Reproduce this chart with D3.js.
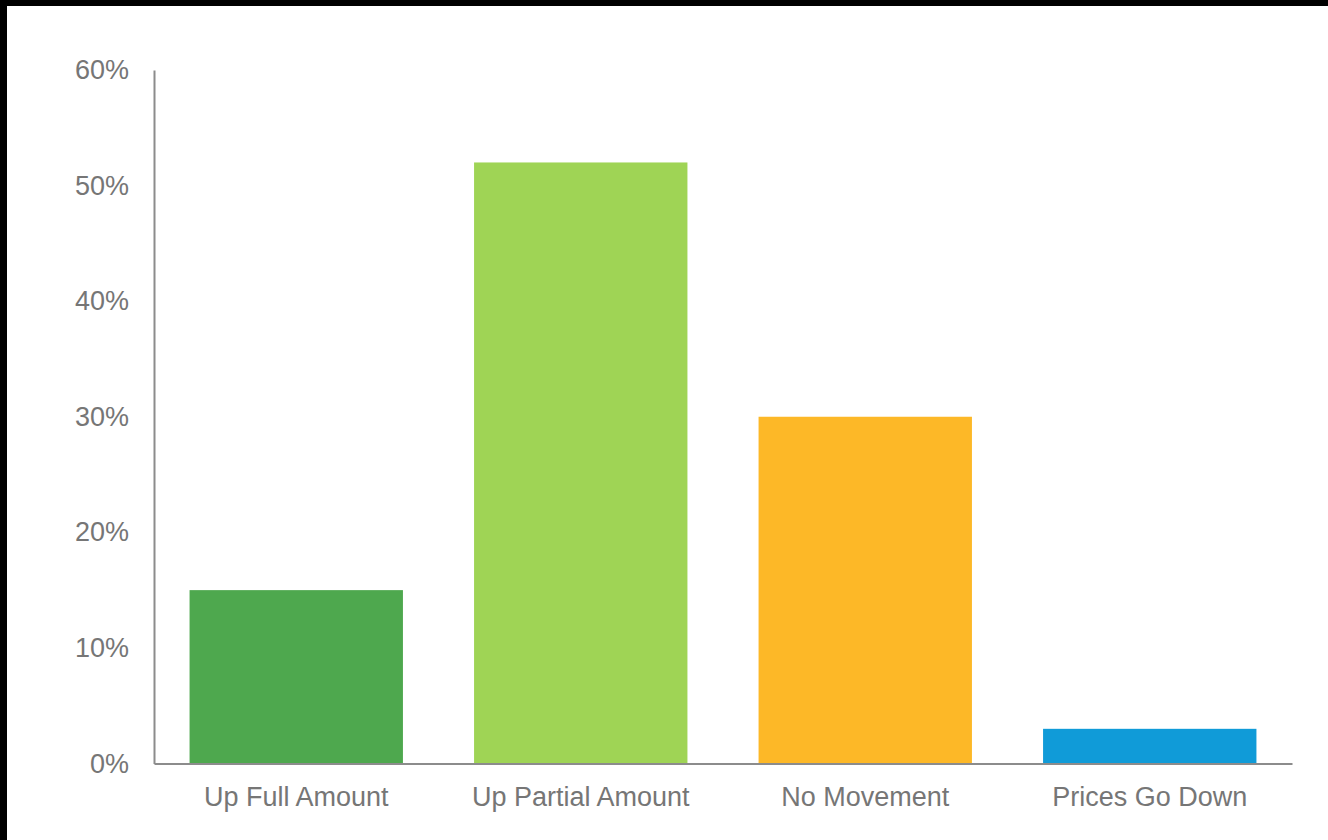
<!DOCTYPE html>
<html>
<head>
<meta charset="utf-8">
<title>Price movement</title>
<script src="https://d3js.org/d3.v7.min.js"></script>
<style>
body { margin: 0; background: #fff; }
text { font-family: "Liberation Sans", Arial, sans-serif; fill: #767676; }
</style>
</head>
<body>
<div id="chart"></div>
<script>
var categories = ["Up Full Amount", "Up Partial Amount", "No Movement", "Prices Go Down"];
var values = [15, 52, 30, 3];
var barColors = ["#4ea84e", "#9fd455", "#fdb827", "#109bd8"];
var yTicks = [0, 10, 20, 30, 40, 50, 60];

var W = 1328, H = 840;
var margin = {top: 70, right: 36, bottom: 76.5, left: 154};
var width = W - margin.left - margin.right,
    height = H - margin.top - margin.bottom;

var svg = d3.select("#chart").append("svg")
    .attr("width", W)
    .attr("height", H);

// black frame on top and left edge of the screenshot
svg.append("rect").attr("x", 0).attr("y", 0).attr("width", W).attr("height", 6).attr("fill", "#000");
svg.append("rect").attr("x", 0).attr("y", 0).attr("width", 7).attr("height", H).attr("fill", "#000");

var g = svg.append("g")
    .attr("transform", "translate(" + margin.left + "," + margin.top + ")");

var x = d3.scaleBand()
    .domain(categories)
    .range([0, width])
    .paddingInner(0.25)
    .paddingOuter(0.125);

var y = d3.scaleLinear()
    .domain([0, 60])
    .range([height, 0]);

g.selectAll("rect.bar")
  .data(values)
  .enter().append("rect")
    .attr("class", "bar")
    .attr("x", function(d, i) { return x(categories[i]); })
    .attr("y", function(d) { return y(d); })
    .attr("width", x.bandwidth())
    .attr("height", function(d) { return height - y(d); })
    .attr("fill", function(d, i) { return barColors[i]; });

var yAxis = g.append("g")
    .call(d3.axisLeft(y).tickValues(yTicks).tickSize(0).tickPadding(25)
      .tickFormat(function(d) { return d + "%"; }));
yAxis.select(".domain").attr("stroke", "#8c8c8c").attr("stroke-width", 2);
yAxis.selectAll("text").style("font-size", "27px").attr("fill", "#767676");

var xAxis = g.append("g")
    .attr("transform", "translate(0," + height + ")")
    .call(d3.axisBottom(x).tickSize(0).tickPadding(23).tickSizeOuter(0));
xAxis.select(".domain").attr("stroke", "#8c8c8c").attr("stroke-width", 2);
xAxis.selectAll("text").style("font-size", "27px").attr("fill", "#767676");
</script>
</body>
</html>
